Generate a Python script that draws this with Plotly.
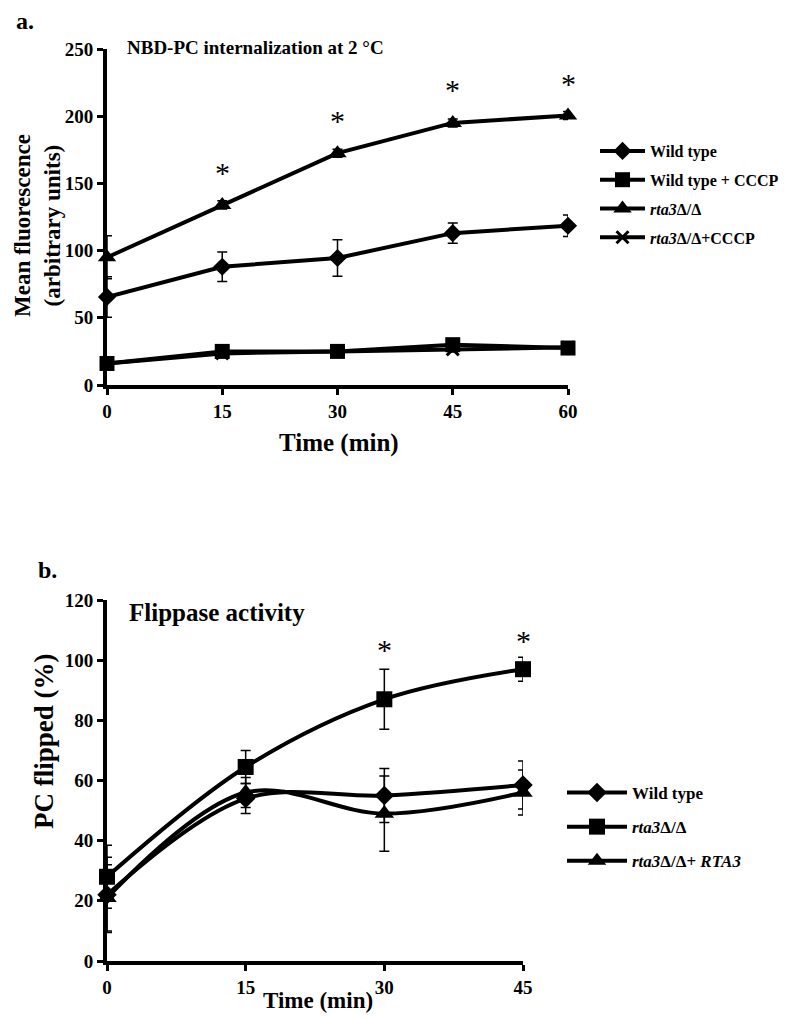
import plotly.graph_objects as go

W, H = 788, 1020
FONT = "Liberation Serif"
OFF = 8  # page body margin in the rendered html

# ---------------- Panel a data ----------------
time_a = [0, 15, 30, 45, 60]
wt_a = [65.5, 88, 94.5, 113, 118.5]
wt_a_err = [15, 11, 13.5, 7.5, 8]
wt_cccp_a = [16, 25, 25, 30, 27.5]
wt_cccp_a_err = [2, 2, 2, 2, 2]
rta3_a = [95, 134, 172.5, 195, 200.5]
rta3_a_err = [16, 3, 3, 3, 3]
rta3_cccp_a = [16, 23.5, 25, 26.5, 28]
rta3_cccp_a_err = [2, 2, 2, 2, 2]
star_x_a = [15, 30, 45, 60]
star_y_a = [158, 197, 220, 224]
xticks_a = [0, 15, 30, 45, 60]
yticks_a = [0, 50, 100, 150, 200, 250]

# ---------------- Panel b data ----------------
time_b = [0, 15, 30, 45]
wt_b = [22, 54, 55, 58.5]
wt_b_err = [12.5, 5, 9, 8]
rta3_b = [28, 64.5, 87, 97]
rta3_b_err = [10.5, 5.5, 10, 4]
rta3_rev_b = [21, 56, 49, 56]
rta3_rev_b_err = [11, 5, 12.5, 7.5]
star_x_b = [30, 45]
star_y_b = [103.5, 106.5]
xticks_b = [0, 15, 30, 45]
yticks_b = [0, 20, 40, 60, 80, 100, 120]


def px_x(x):
    return (x - OFF) / W


def px_y(y):
    return 1 - (y - OFF) / H


fig = go.Figure()


def add_series(x, y, err, name, symbol, size, xa, ya, legend, shape="linear", group=None):
    fig.add_trace(go.Scatter(
        x=x, y=y, name=name, mode="lines+markers",
        xaxis=xa, yaxis=ya, legend=legend, legendgroup=group or name,
        line=dict(color="black", width=4, shape=shape),
        marker=dict(symbol=symbol, size=size, color="black",
                    line=dict(color="black", width=0)),
        error_y=dict(type="data", array=err, visible=True, color="black",
                     thickness=1.5, width=5),
        cliponaxis=False,
    ))


# Panel a
add_series(time_a, wt_a, wt_a_err, "Wild type", "diamond", 14, "x", "y", "legend")
add_series(time_a, wt_cccp_a, wt_cccp_a_err, "Wild type + CCCP", "square", 15, "x", "y", "legend")
add_series(time_a, rta3_a, rta3_a_err, "<i>rta3</i>Δ/Δ", "triangle-up", 16, "x", "y", "legend")
add_series(time_a, rta3_cccp_a, rta3_cccp_a_err, "<i>rta3</i>Δ/Δ+CCCP", "x-thin", 12, "x", "y", "legend")
fig.data[-1].marker.line = dict(color="black", width=3)

# Panel b
add_series(time_b, wt_b, wt_b_err, "Wild type", "diamond", 15, "x2", "y2", "legend2", "spline", "b1")
add_series(time_b, rta3_b, rta3_b_err, "<i>rta3</i>Δ/Δ", "square", 16, "x2", "y2", "legend2", "spline", "b2")
add_series(time_b, rta3_rev_b, rta3_rev_b_err, "<i>rta3</i>Δ/Δ+ <i>RTA3</i>", "triangle-up", 17, "x2", "y2", "legend2", "spline", "b3")

# asterisks
for sx, sy in zip(star_x_a, star_y_a):
    fig.add_annotation(x=sx, y=sy, xref="x", yref="y", text="*", showarrow=False,
                       font=dict(family=FONT, size=30, color="black"))
for sx, sy in zip(star_x_b, star_y_b):
    fig.add_annotation(x=sx, y=sy, xref="x2", yref="y2", text="*", showarrow=False,
                       font=dict(family=FONT, size=30, color="black"))

axis_common = dict(showline=True, linecolor="black", linewidth=4, ticks="outside",
                   tickcolor="black", tickwidth=3, ticklen=6, showgrid=False,
                   zeroline=False, mirror=False, automargin=False,
                   tickfont=dict(family=FONT, size=19, color="black", weight="bold"))

fig.update_layout(
    width=W, height=H, margin=dict(l=0, r=0, t=0, b=0, pad=0, autoexpand=False),
    paper_bgcolor="white", plot_bgcolor="white",
    font=dict(family=FONT, color="black"),
    xaxis=dict(domain=[px_x(107), px_x(568)], range=[0, 60], tickvals=xticks_a,
               anchor="y", **axis_common),
    yaxis=dict(domain=[px_y(385), px_y(49)], range=[0, 250], tickvals=yticks_a,
               anchor="x", **axis_common),
    xaxis2=dict(domain=[px_x(107), px_x(523)], range=[0, 45], tickvals=xticks_b,
                anchor="y2", **axis_common),
    yaxis2=dict(domain=[px_y(961), px_y(600)], range=[0, 120], tickvals=yticks_b,
                anchor="x2", **axis_common),
    legend=dict(x=px_x(595), y=px_y(134), xanchor="left", yanchor="top",
                font=dict(family=FONT, size=16, color="black", weight="bold"),
                tracegroupgap=5, itemwidth=45, bgcolor="rgba(0,0,0,0)"),
    legend2=dict(x=px_x(562), y=px_y(775), xanchor="left", yanchor="top",
                 font=dict(family=FONT, size=17, color="black", weight="bold"),
                 tracegroupgap=9, itemwidth=60, bgcolor="rgba(0,0,0,0)"),
    showlegend=True,
)

texts = [
    ("a.", 14, 21, 24, "left", 0),
    ("NBD-PC internalization at 2 °C", 125, 48, 19, "left", 0),
    ("Mean fluorescence<br>(arbitrary units)", 37, 226, 23, "center", -90),
    ("Time (min)", 339, 443, 25, "center", 0),
    ("b.", 36, 570, 24, "left", 0),
    ("Flippase activity", 127, 612, 25, "left", 0),
    ("PC flipped (%)", 44, 741, 27, "center", -90),
    ("Time (min)", 318, 1000, 23, "center", 0),
]
for t, x, y, s, anc, ang in texts:
    fig.add_annotation(x=px_x(x), y=px_y(y), xref="paper", yref="paper", text=t,
                       showarrow=False, xanchor=anc, yanchor="middle", textangle=ang,
                       font=dict(family=FONT, size=s, color="black", weight="bold"))

fig.write_html("out.html")
